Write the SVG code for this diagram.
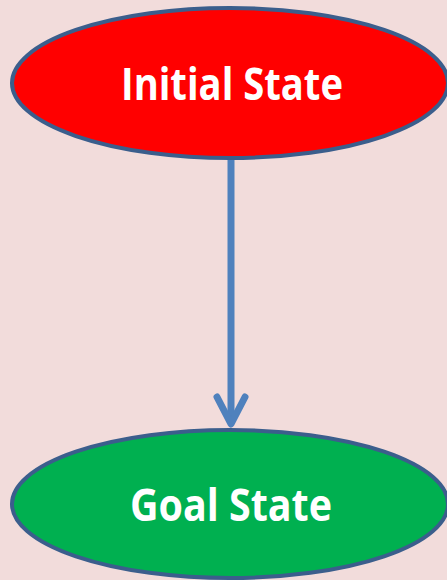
<svg xmlns="http://www.w3.org/2000/svg" width="447" height="580" viewBox="0 0 447 580">
  <style>
    .state { stroke: #3B5E8C; stroke-width: 4; }
    .label { font-family: "Open Sans", "Liberation Sans", sans-serif; font-weight: bold; font-size: 44px; fill: #FFFFFF; text-anchor: middle; }
    .flow { stroke: #4F81BD; stroke-width: 7; fill: none; stroke-linecap: round; stroke-linejoin: round; }
  </style>
  <rect width="447" height="580" fill="#F2DCDB"/>
  <g id="connectors">
    <line class="flow" x1="231" y1="158" x2="231" y2="424" style="stroke-linecap:butt"/>
    <polyline class="flow" points="217,397 231,424 245,397"/>
  </g>
  <g id="initial-state">
    <ellipse class="state" cx="230" cy="83" rx="218" ry="75" fill="#FF0000"/>
    <text class="label" x="232" y="100" textLength="222" lengthAdjust="spacingAndGlyphs">Initial State</text>
  </g>
  <g id="goal-state">
    <ellipse class="state" cx="230" cy="504" rx="218" ry="74" fill="#00B050"/>
    <text class="label" x="231" y="521" textLength="202" lengthAdjust="spacingAndGlyphs">Goal State</text>
  </g>
</svg>
